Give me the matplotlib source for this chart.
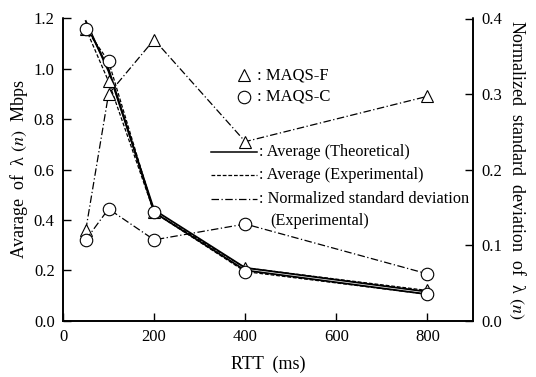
import numpy as np
import matplotlib.pyplot as plt
from matplotlib.lines import Line2D

plt.rcParams['font.family'] = ['Liberation Serif', 'DejaVu Serif']
plt.rcParams['mathtext.fontset'] = 'stix'

# data
rtt = [50, 100, 200, 400, 800]
theo_f = [1.19, 0.99, 0.44, 0.21, 0.115]
theo_c = [1.18, 1.00, 0.43, 0.20, 0.105]
exp_f = [1.16, 0.95, 0.43, 0.21, 0.12]
exp_c = [1.16, 1.03, 0.43, 0.195, 0.105]
std_f = [0.12, 0.30, 0.372, 0.237, 0.297]
std_c = [0.107, 0.148, 0.107, 0.128, 0.062]

fig = plt.figure(figsize=(5.36, 3.77), dpi=100)
ax = fig.add_axes([63/536, 1-320.7/377, 410/536, 302.2/377])
ax2 = ax.twinx()

mk = dict(markersize=9, markerfacecolor='white', markeredgecolor='black', markeredgewidth=0.8)

ax.plot(rtt, theo_f, '-', color='black', lw=1.3)
ax.plot(rtt, theo_c, '-', color='black', lw=1.3)
ax.plot(rtt, exp_f, '--', color='black', lw=0.9, dashes=(3, 1.5), marker='^', **mk)
ax.plot(rtt, exp_c, '--', color='black', lw=0.9, dashes=(3, 1.5), marker='o', **mk)
ax2.plot(rtt, std_f, '-.', color='black', lw=0.9, dashes=(6, 2, 1, 2), marker='^', **mk)
ax2.plot(rtt, std_c, '-.', color='black', lw=0.9, dashes=(6, 2, 1, 2), marker='o', **mk)

ax.set_xlim(0, 900)
ax.set_ylim(0, 1.2)
ax2.set_ylim(0, 0.4)
ax.set_xticks([0, 200, 400, 600, 800])
ax.set_yticks(np.arange(0, 1.21, 0.2))
ax.set_yticklabels(['%.1f' % v for v in np.arange(0, 1.21, 0.2)])
ax2.set_yticks(np.arange(0, 0.41, 0.1))
ax2.set_yticklabels(['%.1f' % v for v in np.arange(0, 0.41, 0.1)])

for a in (ax, ax2):
    a.tick_params(direction='in', length=6, width=1, labelsize=12)
    a.spines['top'].set_visible(False)
    for s in ('left', 'right', 'bottom'):
        a.spines[s].set_linewidth(1.2)
ax.tick_params(axis='x', pad=6)
ax.tick_params(axis='y', pad=6)
ax2.tick_params(axis='y', pad=6)

ax.set_xlabel('RTT  (ms)', fontsize=13, labelpad=8)
ax.set_ylabel('Avarage  of  λ $(n)$  Mbps', fontsize=13, labelpad=3)
ax2.set_ylabel('Normalized  standard  deviation  of  λ $(n)$', fontsize=13,
               rotation=270, labelpad=18)

# legend drawn by hand
tr = ax.transAxes
ax.add_line(Line2D([0.441], [0.813], transform=tr, marker='^', **mk))
ax.add_line(Line2D([0.441], [0.741], transform=tr, marker='o', **mk))
ax.text(0.474, 0.813, ': MAQS-F', transform=tr, fontsize=12, va='center')
ax.text(0.474, 0.741, ': MAQS-C', transform=tr, fontsize=12, va='center')

ax.add_line(Line2D([0.361, 0.473], [0.558, 0.558], transform=tr, color='black', lw=1.1))
ax.add_line(Line2D([0.361, 0.473], [0.482, 0.482], transform=tr, color='black', lw=0.9,
                   ls='--', dashes=(3, 1.5)))
ax.add_line(Line2D([0.361, 0.473], [0.403, 0.403], transform=tr, color='black', lw=0.9,
                   ls='-.', dashes=(6, 2, 1, 2)))
ax.text(0.479, 0.558, ': Average (Theoretical)', transform=tr, fontsize=11.7, va='center')
ax.text(0.479, 0.482, ': Average (Experimental)', transform=tr, fontsize=11.7, va='center')
ax.text(0.479, 0.403, ': Normalized standard deviation', transform=tr, fontsize=11.7, va='center')
ax.text(0.505, 0.330, '(Experimental)', transform=tr, fontsize=11.7, va='center')

fig.savefig('out.png', dpi=100)
